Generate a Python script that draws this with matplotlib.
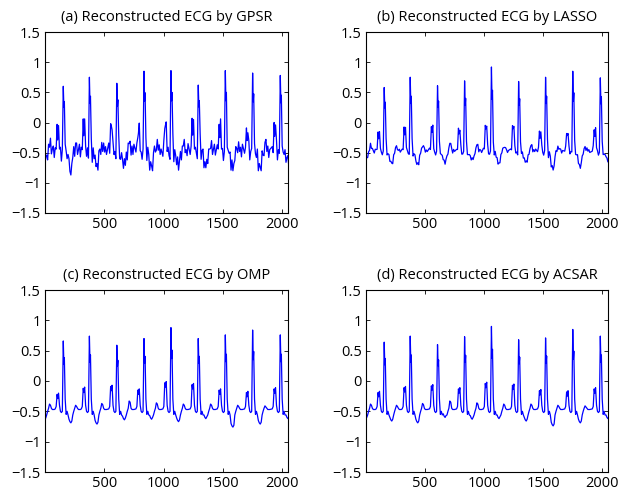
import matplotlib
matplotlib.use("Agg")
import matplotlib.pyplot as plt

# ---------------- data ----------------
r_pos = [155, 375, 606, 835, 1062, 1292, 1520, 1750, 1983]   # R-peak sample positions
xticks = [500, 1000, 1500, 2000]
yticks = [-1.5, -1, -0.5, 0, 0.5, 1, 1.5]
ytick_labels = ["\u22121.5", "\u22121", "\u22120.5", "0", "0.5", "1", "1.5"]

titles = ["(a) Reconstructed ECG by GPSR", "(b) Reconstructed ECG by LASSO",
          "(c) Reconstructed ECG by OMP", "(d) Reconstructed ECG by ACSAR"]

# per-beat values: R height, P-bump height (before R), dip after R (first = before first beat), T-bump after R
a_r = [0.60, 0.75, 0.65, 0.85, 0.86, 0.62, 0.86, 0.82, 0.78]
a_p = [-0.20, -0.10, -0.10, -0.22, -0.12, -0.10, -0.15, -0.24, -0.17]
a_dip = [-0.66, -0.78, -0.70, -0.70, -0.74, -0.70, -0.72, -0.76, -0.76, -0.64]
a_t = [-0.36, -0.38, -0.36, -0.34, -0.34, -0.36, -0.38, -0.38, -0.38, -0.40]

b_r = [0.58, 0.75, 0.61, 0.69, 0.92, 0.68, 0.75, 0.85, 0.74]
b_p = [-0.26, -0.18, -0.16, -0.20, -0.12, -0.13, -0.23, -0.24, -0.20]
b_dip = [-0.64, -0.68, -0.70, -0.67, -0.62, -0.68, -0.67, -0.77, -0.73, -0.62]
b_t = [-0.38, -0.40, -0.37, -0.33, -0.36, -0.38, -0.38, -0.40, -0.41, -0.40]

c_r = [0.66, 0.74, 0.59, 0.70, 0.88, 0.70, 0.76, 0.84, 0.76]
c_p = [-0.29, -0.19, -0.16, -0.22, -0.10, -0.13, -0.22, -0.26, -0.20]
c_dip = [-0.64, -0.69, -0.71, -0.64, -0.63, -0.67, -0.62, -0.76, -0.71, -0.62]
c_t = [-0.38, -0.40, -0.37, -0.33, -0.36, -0.38, -0.38, -0.40, -0.41, -0.40]

d_r = [0.64, 0.74, 0.60, 0.73, 0.90, 0.68, 0.71, 0.85, 0.74]
d_p = [-0.26, -0.18, -0.15, -0.20, -0.11, -0.14, -0.23, -0.25, -0.20]
d_dip = [-0.63, -0.66, -0.69, -0.60, -0.63, -0.62, -0.66, -0.74, -0.69, -0.62]
d_t = [-0.38, -0.40, -0.37, -0.33, -0.36, -0.38, -0.38, -0.40, -0.41, -0.40]

# estimated noise on the GPSR reconstruction (one value per drawn vertex)
a_noise = [
    0.05,-0.08,0.11,-0.03,-0.10,0.07,0.02,-0.12,0.09,-0.05,0.12,-0.07,0.03,0.08,-0.11,0.04,-0.02,0.10,-0.09,0.06,
    -0.04,0.09,-0.12,0.05,0.01,-0.07,0.11,-0.06,0.08,-0.10,0.03,0.12,-0.05,-0.09,0.07,-0.02,0.10,-0.11,0.04,0.06,
    -0.08,0.02,0.11,-0.10,0.05,-0.03,0.09,-0.12,0.07,0.01,-0.06,0.10,-0.09,0.04,0.12,-0.07,0.03,-0.11,0.08,-0.04,
    0.10,-0.05,0.02,-0.12,0.09,0.06,-0.08,0.03,-0.10,0.11,-0.02,0.07,-0.06,0.12,-0.09,0.01,0.05,-0.11,0.08,-0.03,
    0.04,-0.10,0.12,-0.07,0.02,0.09,-0.05,-0.11,0.06,0.03,-0.08,0.10,-0.04,0.07,-0.12,0.11,-0.01,0.05,-0.09,0.08,
    -0.06,0.11,-0.03,0.08,-0.10,0.04,0.12,-0.07,0.01,-0.09,0.06,-0.12,0.10,-0.02,0.05,-0.08,0.09,0.03,-0.11,0.07,
    0.02,-0.09,0.06,0.11,-0.04,-0.12,0.08,-0.01,0.10,-0.06,0.03,-0.10,0.12,-0.05,0.07,0.04,-0.08,0.09,-0.03,-0.11,
    0.09,-0.02,-0.07,0.12,-0.10,0.05,0.01,-0.06,0.11,-0.09,0.04,0.08,-0.12,0.06,-0.03,0.10,-0.05,0.02,-0.08,0.12,
    -0.07,0.03,0.10,-0.11,0.06,-0.04,0.09,0.02,-0.10,0.07,-0.01,-0.08,0.11,-0.06,0.04,0.12,-0.09,0.05,-0.03,0.08,
    -0.12,0.06,0.01,-0.05,0.10,-0.08,0.03,0.11,-0.07,0.09,-0.02,0.05,-0.10,0.12,-0.04,0.07,-0.11,0.02,0.08,-0.06,
    0.03,-0.11,0.09,-0.01,0.07,-0.09,0.12,-0.04,0.05,-0.07,0.10,0.02,-0.12,0.08,-0.03,0.06,-0.10,0.11,-0.05,0.01,
    0.08,-0.06,-0.02,0.10,-0.12,0.04,0.07,-0.09,0.01,0.11,-0.05,0.03,-0.08,0.12,-0.10,0.06,0.02,-0.07,0.09,-0.04,
    -0.10,0.05,0.12,-0.03,0.08,-0.11,0.02,0.06,-0.08,0.10,-0.06,0.04,0.11,-0.12,0.07,-0.01,0.09,-0.05,0.03,-0.09,
    0.06,-0.03,0.11,-0.08,0.04,0.09,-0.12,0.01,0.07,-0.10,0.12,-0.04,0.05,-0.07,0.10,-0.02,0.08,-0.11,0.03,-0.06,
]
# smaller estimated ripple on the LASSO reconstruction
b_noise = [v * 0.3 for v in a_noise[::-1]]


def build(r, p, dip, t, noise=None):
    xs, ys, quiet = [], [], []
    first = r_pos[0] - (r_pos[1] - r_pos[0])
    beats = [first] + r_pos
    for k, R in enumerate(beats):
        pts = []
        if k > 0:
            amp, P = r[k - 1], p[k - 1]
            pts += [(-68, -0.46), (-60, -0.42), (-52, P + 0.07), (-47, P), (-40, P + 0.09),
                    (-32, -0.40), (-24, -0.50), (-16, -0.52), (-8, -0.50)]
            pts += [(0, amp), (5, 0.42 * amp), (9, 0.58 * amp), (16, -0.30), (24, -0.55)]
        D, T = dip[k], t[k]
        pts += [(32, -0.50), (40, -0.56), (48, D + 0.06), (56, D + 0.02), (64, D), (72, D + 0.03),
                (80, -0.56), (88, -0.50), (96, -0.45), (104, T), (112, T - 0.02), (120, -0.45),
                (128, -0.47), (136, -0.47), (144, -0.47)]
        for off, v in pts:
            xs.append(R + off)
            ys.append(v)
            quiet.append(k > 0 and off in (0, 5, 9))
    if noise is not None:
        ys = [y if q else y + n for y, q, n in zip(ys, quiet, noise)]
    return xs, ys


series = [build(a_r, a_p, a_dip, a_t, a_noise), build(b_r, b_p, b_dip, b_t, b_noise),
          build(c_r, c_p, c_dip, c_t), build(d_r, d_p, d_dip, d_t)]

plt.rcParams["font.family"] = ["Open Sans", "DejaVu Sans"]
fig = plt.figure(figsize=(6.19, 5.0), dpi=100)
W, H = 619.0, 500.0
boxes = [(45, 32, 288, 213), (366, 32, 608, 213), (45, 290, 288, 472), (366, 290, 608, 472)]

for (l, tp, rt, bt), (xs, ys), title in zip(boxes, series, titles):
    ax = fig.add_axes([l / W, (H - bt) / H, (rt - l) / W, (bt - tp) / H])
    ax.plot(xs, ys, color=(0, 0, 1), lw=0.9)
    ax.set_xlim(1, 2048)
    ax.set_ylim(-1.5, 1.5)
    ax.set_xticks(xticks)
    ax.set_yticks(yticks)
    ax.set_yticklabels(ytick_labels)
    ax.tick_params(direction="in", top=True, right=True, length=3, width=0.6,
                   labelsize=10.5, pad=3)
    for s in ax.spines.values():
        s.set_linewidth(0.8)
    ax.set_title(title, fontsize=10.5, pad=8)

fig.savefig("out.png", dpi=100)
